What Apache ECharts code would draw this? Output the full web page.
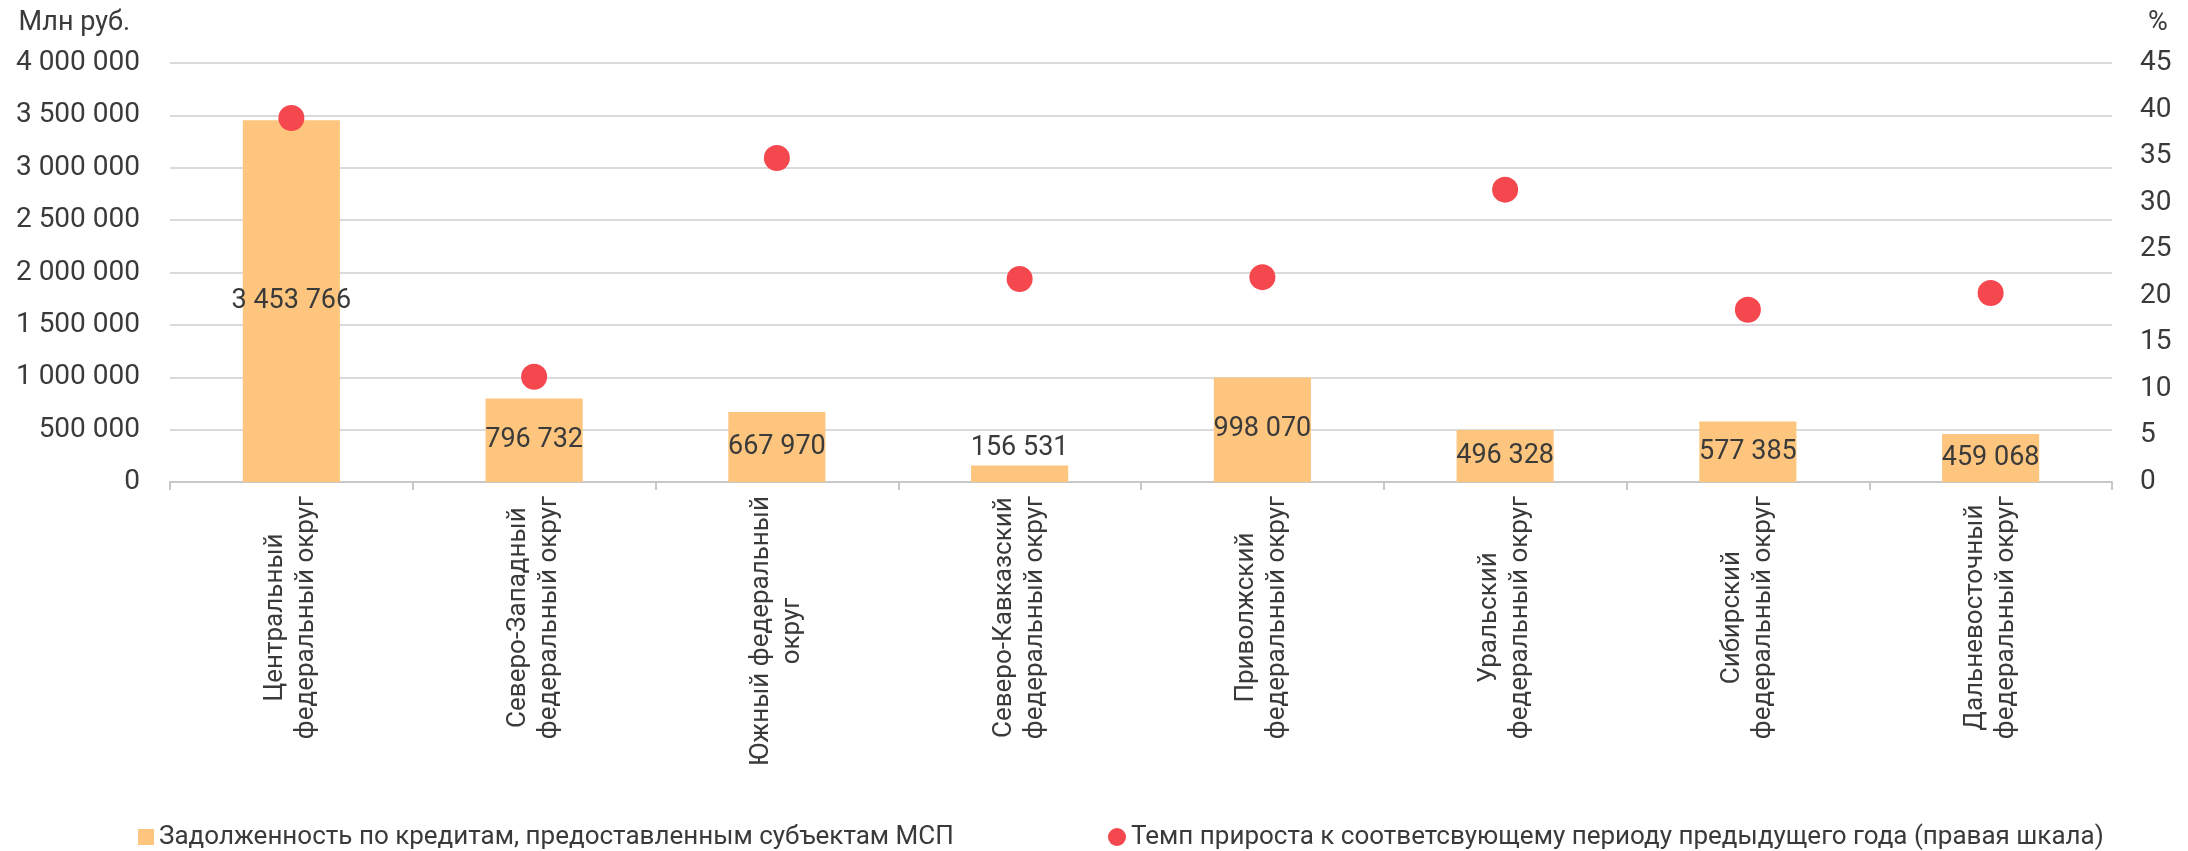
<!DOCTYPE html>
<html>
<head>
<meta charset="utf-8">
<script src="https://cdn.jsdelivr.net/npm/echarts@6/dist/echarts.min.js"></script>
<style>
html,body{margin:0;padding:0;background:#fff;}
#c{width:2188px;height:851px;}
</style>
</head>
<body>
<div id="c"></div>
<script>
const categories = [
  'Центральный\nфедеральный округ',
  'Северо-Западный\nфедеральный округ',
  'Южный федеральный\nокруг',
  'Северо-Кавказский\nфедеральный округ',
  'Приволжский\nфедеральный округ',
  'Уральский\nфедеральный округ',
  'Сибирский\nфедеральный округ',
  'Дальневосточный\nфедеральный округ'
];
const debtValues = [3453766, 796732, 667970, 156531, 998070, 496328, 577385, 459068];
const growthValues = [39.1, 11.3, 34.8, 21.8, 22.0, 31.4, 18.5, 20.3];
const seriesNames = ['Задолженность по кредитам, предоставленным субъектам МСП',
  'Темп прироста к соответсвующему периоду предыдущего года (правая шкала)'];
const leftTicks = {min: 0, max: 4000000, interval: 500000};
const rightTicks = {min: 0, max: 45, interval: 5};

const FONT = 'Roboto';
const TXT = '#3a3a3a';
const BAR = '#FDC57D';
const DOT = '#F4474E';
const fmt = n => String(n).replace(/\B(?=(\d{3})+(?!\d))/g, ' ');

const chart = echarts.init(document.getElementById('c'));
chart.setOption({
  animation: false,
  textStyle: {fontFamily: FONT},
  grid: {left: 170, right: 76, top: 63, bottom: 369, containLabel: false},
  legend: [
    {left: 133, top: 819, itemWidth: 16, itemHeight: 16, itemGap: 10,
     icon: 'rect', data: [seriesNames[0]],
     textStyle: {fontSize: 26, color: TXT, fontFamily: FONT}},
    {left: 1103, top: 819, itemWidth: 18, itemHeight: 18,
     icon: 'circle', data: [seriesNames[1]],
     textStyle: {fontSize: 26, color: TXT, fontFamily: FONT}}
  ],
  xAxis: {
    type: 'category',
    data: categories,
    axisLine: {lineStyle: {color: '#C8C8C8', width: 2}},
    axisTick: {show: true, length: 8, lineStyle: {color: '#C8C8C8', width: 2}},
    axisLabel: {
      rotate: 90, margin: 14, interval: 0,
      formatter: v => v.split('\n').map(s => '{c|' + s + '}').join('\n'),
      rich: {c: {align: 'center', fontSize: 26, lineHeight: 31, color: TXT, fontFamily: FONT}}
    }
  },
  yAxis: [
    {
      type: 'value', min: leftTicks.min, max: leftTicks.max, interval: leftTicks.interval,
      name: 'Млн руб.', nameLocation: 'end', nameGap: 26,
      nameTextStyle: {fontSize: 27, color: TXT, align: 'right', padding: [0, 40, 0, 0], fontFamily: FONT},
      axisLine: {show: false}, axisTick: {show: false},
      axisLabel: {fontSize: 28, color: TXT, margin: 30, formatter: v => fmt(v)},
      splitLine: {lineStyle: {color: '#DADADA', width: 2}}
    },
    {
      type: 'value', min: rightTicks.min, max: rightTicks.max, interval: rightTicks.interval,
      name: '%', nameLocation: 'end', nameGap: 26,
      nameTextStyle: {fontSize: 27, color: TXT, align: 'left', padding: [0, 0, 0, 36], fontFamily: FONT},
      axisLine: {show: false}, axisTick: {show: false},
      axisLabel: {fontSize: 28, color: TXT, margin: 28},
      splitLine: {show: false}
    }
  ],
  series: [
    {
      name: seriesNames[0], type: 'bar', yAxisIndex: 0,
      barCategoryGap: '60%',
      itemStyle: {color: BAR},
      label: {show: true, position: 'inside', fontSize: 27, color: TXT, fontFamily: FONT,
              formatter: p => fmt(p.value)},
      data: debtValues.map(v => v < 300000 ? {value: v, label: {position: 'top', distance: 4}} : v)
    },
    {
      name: seriesNames[1], type: 'scatter', yAxisIndex: 1,
      symbol: 'circle', symbolSize: 26,
      itemStyle: {color: DOT, opacity: 1},
      data: growthValues
    }
  ]
});
</script>
</body>
</html>
